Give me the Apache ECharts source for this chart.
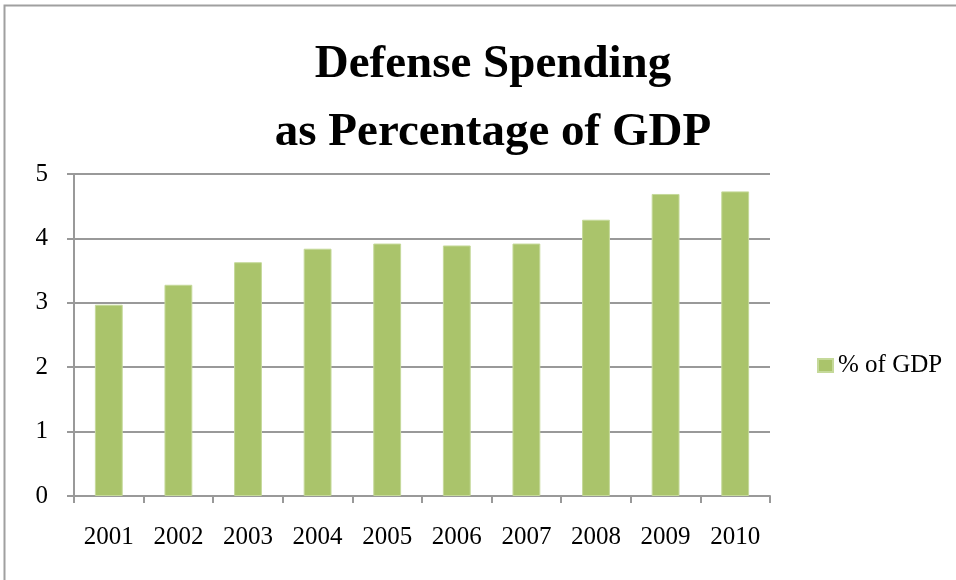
<!DOCTYPE html>
<html>
<head>
<meta charset="utf-8">
<script src="https://cdn.jsdelivr.net/npm/echarts@6/dist/echarts.min.js"></script>
<style>
  html, body { margin: 0; padding: 0; background: #fff; }
  #chart { width: 956px; height: 580px; }
</style>
</head>
<body>
<div id="chart"></div>
<script>
// data
const years = ["2001", "2002", "2003", "2004", "2005", "2006", "2007", "2008", "2009", "2010"];
const pctOfGdp = [2.97, 3.28, 3.63, 3.84, 3.92, 3.89, 3.92, 4.29, 4.69, 4.73];
const seriesName = "% of GDP";

const chart = echarts.init(document.getElementById("chart"));
const serif = "'Liberation Serif', 'Times New Roman', serif";

const option = {
  animation: false,
  backgroundColor: "#fff",
  title: {
    text: "Defense Spending\nas Percentage of GDP",
    left: 488,
    top: 26,
    textAlign: "center",
    textStyle: {
      fontFamily: serif,
      fontWeight: "bold",
      fontSize: 47,
      lineHeight: 68,
      color: "#000"
    }
  },
  legend: {
    data: [seriesName],
    left: 812,
    top: 348,
    icon: "rect",
    itemWidth: 15,
    itemHeight: 13,
    itemGap: 4,
    textStyle: { fontFamily: serif, fontSize: 25, color: "#000" }
  },
  grid: { left: 74, right: 186, top: 174, bottom: 84 },
  xAxis: {
    type: "category",
    data: years,
    axisLine: { lineStyle: { color: "#999", width: 2 } },
    axisTick: { show: true, length: 7, lineStyle: { color: "#999", width: 2 } },
    axisLabel: { fontFamily: serif, fontSize: 25, color: "#000", margin: 29 }
  },
  yAxis: {
    type: "value",
    min: 0,
    max: 5,
    interval: 1,
    axisLine: { show: true, lineStyle: { color: "#999", width: 2 } },
    axisTick: { show: true, length: 7, lineStyle: { color: "#999", width: 2 } },
    splitLine: { lineStyle: { color: "#999", width: 2 } },
    axisLabel: { fontFamily: serif, fontSize: 25, color: "#000", margin: 26 }
  },
  series: [
    {
      name: seriesName,
      type: "bar",
      data: pctOfGdp,
      barCategoryGap: "60%",
      itemStyle: { color: "#aac46b", borderColor: "#c5d99a", borderWidth: 1 }
    }
  ],
  graphic: [
    {
      type: "rect",
      shape: { x: 4.5, y: 5.5, width: 1000, height: 1000 },
      style: { fill: "none", stroke: "#a0a0a0", lineWidth: 2 },
      silent: true
    }
  ]
};

chart.setOption(option);
window.addEventListener("resize", () => chart.resize());
</script>
</body>
</html>
